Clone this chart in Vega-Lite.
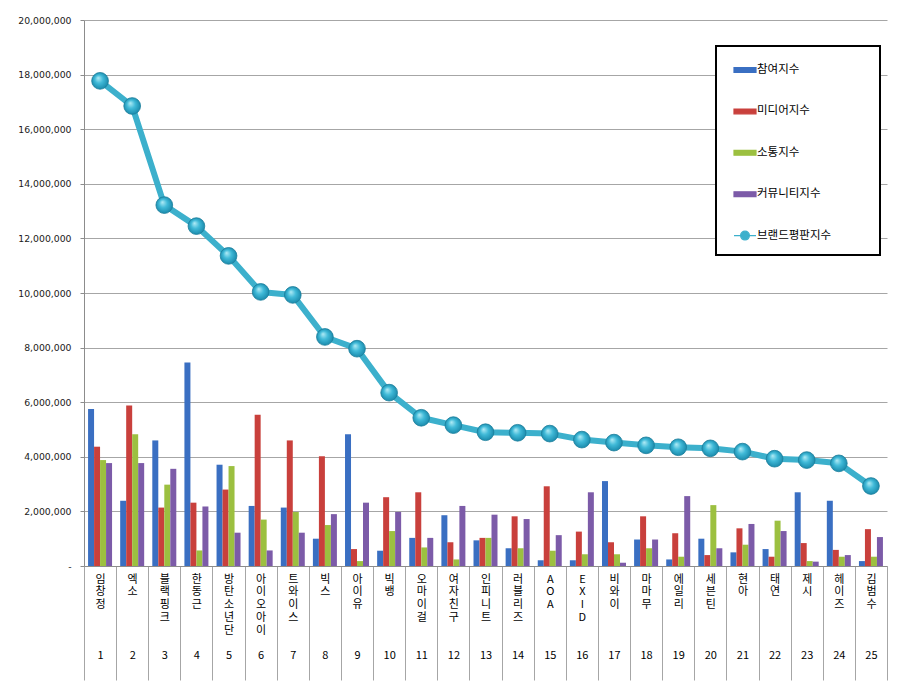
{
  "$schema": "https://vega.github.io/schema/vega-lite/v6.json",
  "width": 803,
  "height": 546,
  "autosize": {"type": "none"},
  "padding": {"left": 84, "top": 20, "right": 13, "bottom": 125},
  "background": "#ffffff",
  "data": {
    "values": [
      {"rank": 1, "name": "임창정", "참여지수": 5750000, "미디어지수": 4370000, "소통지수": 3880000, "커뮤니티지수": 3770000, "브랜드평판지수": 17770000},
      {"rank": 2, "name": "엑소", "참여지수": 2390000, "미디어지수": 5880000, "소통지수": 4830000, "커뮤니티지수": 3770000, "브랜드평판지수": 16850000},
      {"rank": 3, "name": "블랙핑크", "참여지수": 4600000, "미디어지수": 2140000, "소통지수": 2980000, "커뮤니티지수": 3560000, "브랜드평판지수": 13220000},
      {"rank": 4, "name": "한동근", "참여지수": 7450000, "미디어지수": 2320000, "소통지수": 570000, "커뮤니티지수": 2180000, "브랜드평판지수": 12450000},
      {"rank": 5, "name": "방탄소년단", "참여지수": 3710000, "미디어지수": 2800000, "소통지수": 3660000, "커뮤니티지수": 1220000, "브랜드평판지수": 11360000},
      {"rank": 6, "name": "아이오아이", "참여지수": 2200000, "미디어지수": 5540000, "소통지수": 1700000, "커뮤니티지수": 570000, "브랜드평판지수": 10040000},
      {"rank": 7, "name": "트와이스", "참여지수": 2140000, "미디어지수": 4600000, "소통지수": 1980000, "커뮤니티지수": 1220000, "브랜드평판지수": 9930000},
      {"rank": 8, "name": "빅스", "참여지수": 1000000, "미디어지수": 4020000, "소통지수": 1500000, "커뮤니티지수": 1900000, "브랜드평판지수": 8390000},
      {"rank": 9, "name": "아이유", "참여지수": 4830000, "미디어지수": 620000, "소통지수": 180000, "커뮤니티지수": 2320000, "브랜드평판지수": 7960000},
      {"rank": 10, "name": "빅뱅", "참여지수": 560000, "미디어지수": 2520000, "소통지수": 1280000, "커뮤니티지수": 1980000, "브랜드평판지수": 6350000},
      {"rank": 11, "name": "오마이걸", "참여지수": 1030000, "미디어지수": 2700000, "소통지수": 680000, "커뮤니티지수": 1030000, "브랜드평판지수": 5430000},
      {"rank": 12, "name": "여자친구", "참여지수": 1860000, "미디어지수": 870000, "소통지수": 240000, "커뮤니티지수": 2200000, "브랜드평판지수": 5160000},
      {"rank": 13, "name": "인피니트", "참여지수": 940000, "미디어지수": 1030000, "소통지수": 1030000, "커뮤니티지수": 1880000, "브랜드평판지수": 4900000},
      {"rank": 14, "name": "러블리즈", "참여지수": 650000, "미디어지수": 1820000, "소통지수": 650000, "커뮤니티지수": 1720000, "브랜드평판지수": 4880000},
      {"rank": 15, "name": "AOA", "참여지수": 210000, "미디어지수": 2920000, "소통지수": 560000, "커뮤니티지수": 1130000, "브랜드평판지수": 4850000},
      {"rank": 16, "name": "EXID", "참여지수": 210000, "미디어지수": 1260000, "소통지수": 430000, "커뮤니티지수": 2700000, "브랜드평판지수": 4630000},
      {"rank": 17, "name": "비와이", "참여지수": 3110000, "미디어지수": 870000, "소통지수": 430000, "커뮤니티지수": 120000, "브랜드평판지수": 4520000},
      {"rank": 18, "name": "마마무", "참여지수": 970000, "미디어지수": 1820000, "소통지수": 650000, "커뮤니티지수": 970000, "브랜드평판지수": 4420000},
      {"rank": 19, "name": "에일리", "참여지수": 240000, "미디어지수": 1200000, "소통지수": 340000, "커뮤니티지수": 2560000, "브랜드평판지수": 4350000},
      {"rank": 20, "name": "세븐틴", "참여지수": 1000000, "미디어지수": 400000, "소통지수": 2230000, "커뮤니티지수": 650000, "브랜드평판지수": 4310000},
      {"rank": 21, "name": "현아", "참여지수": 500000, "미디어지수": 1380000, "소통지수": 780000, "커뮤니티지수": 1540000, "브랜드평판지수": 4190000},
      {"rank": 22, "name": "태연", "참여지수": 620000, "미디어지수": 340000, "소통지수": 1660000, "커뮤니티지수": 1280000, "브랜드평판지수": 3930000},
      {"rank": 23, "name": "제시", "참여지수": 2700000, "미디어지수": 840000, "소통지수": 180000, "커뮤니티지수": 160000, "브랜드평판지수": 3880000},
      {"rank": 24, "name": "헤이즈", "참여지수": 2390000, "미디어지수": 590000, "소통지수": 340000, "커뮤니티지수": 400000, "브랜드평판지수": 3760000},
      {"rank": 25, "name": "김범수", "참여지수": 180000, "미디어지수": 1350000, "소통지수": 340000, "커뮤니티지수": 1060000, "브랜드평판지수": 2930000}
    ]
  },
  "encoding": {
    "x": {
      "field": "name",
      "type": "nominal",
      "sort": null,
      "scale": {"paddingInner": 0, "paddingOuter": 0},
      "axis": {
        "title": null,
        "labelAngle": 0,
        "tickBand": "extent",
        "tickSize": 114,
        "tickColor": "#a6a6a6",
        "domainColor": "#8c8c8c",
        "labelPadding": -107,
        "labelBaseline": "top",
        "labelAlign": "center",
        "labelLineHeight": 12.8,
        "labelFont": "Noto Sans CJK KR",
        "labelFontSize": 11,
        "labelColor": "#000000",
        "labelOverlap": false,
        "labelExpr": "isString(datum.value) ? split(join(slice(split(join(split(datum.value, ''), '\\n') + '\\n\u3164\\n\u3164\\n\u3164\\n\u3164\\n\u3164\\n\u3164', '\\n'), 0, 6), '\\n') + '\\n' + (indexof(domain('x'), datum.value) + 1), '\\n') : ''"
      }
    }
  },
  "layer": [
    {
      "transform": [
        {"fold": ["참여지수", "미디어지수", "소통지수", "커뮤니티지수"], "as": ["metric", "value"]}
      ],
      "mark": {"type": "bar"},
      "encoding": {
        "xOffset": {
          "field": "metric",
          "type": "nominal",
          "sort": ["참여지수", "미디어지수", "소통지수", "커뮤니티지수"],
          "scale": {"paddingInner": 0, "paddingOuter": 0.677}
        },
        "y": {
          "field": "value",
          "type": "quantitative",
          "scale": {"domain": [0, 20000000], "nice": false},
          "axis": {
            "title": null,
            "values": [0, 2000000, 4000000, 6000000, 8000000, 10000000, 12000000, 14000000, 16000000, 18000000, 20000000],
            "format": ",d",
            "labelExpr": "datum.value === 0 ? '-\u00a0\u00a0' : datum.label",
            "grid": true,
            "gridColor": "#a6a6a6",
            "domainColor": "#8c8c8c",
            "tickColor": "#8c8c8c",
            "tickSize": 4,
            "labelPadding": 9,
            "labelFont": "DejaVu Sans",
            "labelFontSize": 9.3,
            "labelColor": "#1a1a1a"
          }
        },
        "color": {
          "field": "metric",
          "type": "nominal",
          "scale": {
            "domain": ["참여지수", "미디어지수", "소통지수", "커뮤니티지수", "브랜드평판지수"],
            "range": ["#3a6fc2", "#c9403c", "#9cc040", "#7c5ba8", "#3cb0cc"]
          },
          "legend": {
            "title": null,
            "orient": "none",
            "legendX": 632,
            "legendY": 26,
            "padding": 12,
            "symbolOffset": 5,
            "symbolSize": 484,
            "symbolType": "M-1,-0.22H1V0.22H-1Z",
            "rowPadding": 23.4,
            "labelOffset": 0,
            "labelFont": "Noto Sans CJK KR",
            "labelFontSize": 11.5,
            "labelColor": "#000000",
            "labelExpr": "datum.label + '\u00a0\u00a0\u3164\u3164\u3164'",
            "fillColor": "#ffffff",
            "strokeColor": "#000000",
            "encode": {
              "legend": {"update": {"strokeWidth": {"value": 2}}},
              "symbols": {
                "update": {
                  "shape": {"signal": "datum.value === '브랜드평판지수' ? 'M-1,0H-0.4A0.4,0.4 0 1,1 0.4,0A0.4,0.4 0 1,1 -0.4,0M0.4,0H1' : 'M-1,-0.22H1V0.22H-1Z'"},
                  "strokeWidth": {"value": 1.2},
                  "opacity": {"value": 1}
                }
              }
            }
          }
        }
      }
    },
    {
      "mark": {"type": "line", "strokeWidth": 6, "strokeJoin": "round"},
      "encoding": {
        "y": {"field": "브랜드평판지수", "type": "quantitative"},
        "color": {"datum": "브랜드평판지수"}
      }
    },
    {
      "mark": {
        "type": "point",
        "filled": true,
        "size": 280,
        "opacity": 1,
        "fill": {
          "gradient": "radial",
          "x1": 0.38, "y1": 0.32, "r1": 0,
          "x2": 0.5, "y2": 0.5, "r2": 0.55,
          "stops": [
            {"offset": 0, "color": "#b4ecf6"},
            {"offset": 0.45, "color": "#40bad8"},
            {"offset": 1, "color": "#1684a6"}
          ]
        },
        "stroke": "#1b7d9a",
        "strokeWidth": 0.8
      },
      "encoding": {
        "y": {"field": "브랜드평판지수", "type": "quantitative"}
      }
    }
  ],
  "config": {
    "view": {"stroke": null},
    "font": "Noto Sans CJK KR"
  }
}
